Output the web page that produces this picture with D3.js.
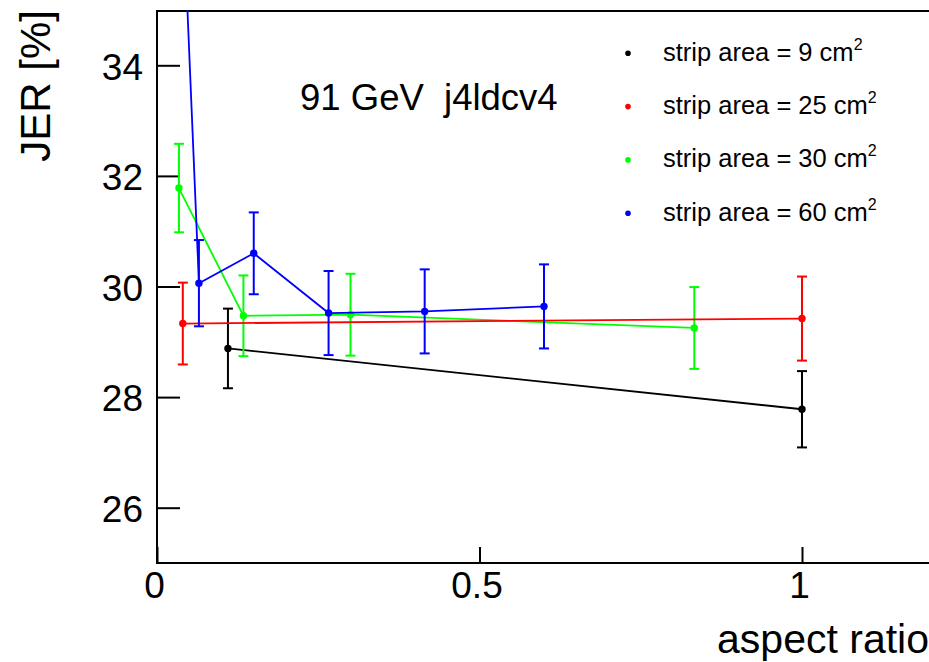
<!DOCTYPE html>
<html>
<head>
<meta charset="utf-8">
<script src="https://cdn.jsdelivr.net/npm/d3@7"></script>
<style>
  body { margin: 0; background: #fff; }
  svg { display: block; }
  text { font-family: "Liberation Sans", Arial, Helvetica, sans-serif; }
</style>
</head>
<body>
<svg id="chart" width="929" height="662"></svg>
<script>
// ---- data ----
const seriesLabels = ["strip area = 9 cm", "strip area = 25 cm", "strip area = 30 cm", "strip area = 60 cm"];
const seriesColors = ["#000000", "#ff0000", "#00ff00", "#0000ff"];

const x9  = [0.11, 1.0];
const y9  = [28.88, 27.78];
const e9  = [0.72, 0.69];

const x25 = [0.04, 1.0];
const y25 = [29.33, 29.42];
const e25 = [0.74, 0.76];

const x30 = [0.034, 0.134, 0.30, 0.833];
const y30 = [31.78, 29.47, 29.49, 29.25];
const e30 = [0.80, 0.73, 0.74, 0.74];

const x60 = [0.04, 0.065, 0.15, 0.266, 0.415, 0.60];
const y60 = [37.0, 30.06, 30.60, 29.52, 29.55, 29.64];
const e60 = [0.80, 0.78, 0.74, 0.76, 0.76, 0.76];

const xTicks = [0, 0.5, 1];
const yTicks = [26, 28, 30, 32, 34];
const titleText = "91 GeV  j4ldcv4";
const xTitle = "aspect ratio";
const yTitle = "JER [%]";

(function () {
// ---- layout ----
const svg = d3.select("#chart");
const pL = 157, pR = 931, pT = 10, pB = 563;

const x = d3.scaleLinear().domain([0, 1.2]).range([pL, pR]);
const y = d3.scaleLinear().domain([25, 35]).range([pB, pT]);

const series = [
  { xs: x9,  ys: y9,  es: e9 },
  { xs: x25, ys: y25, es: e25 },
  { xs: x30, ys: y30, es: e30 },
  { xs: x60, ys: y60, es: e60 }
].map((s, i) => ({
  label: seriesLabels[i],
  color: seriesColors[i],
  pts: s.xs.map((v, j) => ({ x: v, y: s.ys[j], e: s.es[j] }))
}));

svg.append("defs").append("clipPath").attr("id", "plotclip")
  .append("rect").attr("x", pL).attr("y", pT)
  .attr("width", pR - pL).attr("height", pB - pT);

// axes
const yAxis = d3.axisLeft(y).tickValues(yTicks).tickSizeInner(-23).tickSizeOuter(0).tickPadding(14)
  .tickFormat(d3.format("d"));
const gy = svg.append("g").attr("transform", `translate(${pL},0)`).call(yAxis);
gy.select(".domain").remove();
gy.selectAll(".tick line").attr("stroke", "#000").attr("stroke-width", 2);
gy.selectAll(".tick text").attr("font-size", 37).attr("fill", "#000").attr("dy", "0.37em");

const xAxis = d3.axisBottom(x).tickValues(xTicks).tickSizeInner(-16).tickSizeOuter(0).tickPadding(9)
  .tickFormat(d => String(d));
const gx = svg.append("g").attr("transform", `translate(0,${pB})`).call(xAxis);
gx.select(".domain").remove();
gx.selectAll(".tick line").attr("stroke", "#000").attr("stroke-width", 2);
gx.selectAll(".tick text").attr("font-size", 37).attr("fill", "#000").attr("dx", "-3");

// frame
svg.append("rect").attr("x", pL).attr("y", pT + 1)
  .attr("width", pR - pL).attr("height", pB - pT - 1)
  .attr("fill", "none").attr("stroke", "#000").attr("stroke-width", 2);

// data
const plot = svg.append("g").attr("clip-path", "url(#plotclip)");
const order = [0, 2, 1, 3];
const line = d3.line().x(d => x(d.x)).y(d => y(d.y));
order.forEach(i => {
  const s = series[i];
  const g = plot.append("g");
  g.append("path").datum(s.pts).attr("d", line)
    .attr("fill", "none").attr("stroke", s.color).attr("stroke-width", 1.8);
  const eb = g.selectAll(".eb").data(s.pts).enter().append("g");
  eb.append("line")
    .attr("x1", d => x(d.x)).attr("x2", d => x(d.x))
    .attr("y1", d => y(d.y + d.e)).attr("y2", d => y(d.y - d.e))
    .attr("stroke", s.color).attr("stroke-width", 2);
  [1, -1].forEach(sg => {
    eb.append("line")
      .attr("x1", d => x(d.x) - 5).attr("x2", d => x(d.x) + 5)
      .attr("y1", d => y(d.y + sg * d.e)).attr("y2", d => y(d.y + sg * d.e))
      .attr("stroke", s.color).attr("stroke-width", 2);
  });
  eb.append("circle").attr("cx", d => x(d.x)).attr("cy", d => y(d.y))
    .attr("r", 3.7).attr("fill", s.color);
});

// title text
svg.append("text").attr("x", 300).attr("y", 110).attr("font-size", 36.5)
  .attr("fill", "#000").style("white-space", "pre").text(titleText);

// legend
const lg = svg.append("g");
series.forEach((s, i) => {
  const cy = 53.3 + i * 53.3;
  lg.append("circle").attr("cx", 628).attr("cy", cy).attr("r", 2.8).attr("fill", s.color);
  const t = lg.append("text").attr("x", 663).attr("y", cy + 7.5).attr("font-size", 25.5).attr("fill", "#000");
  t.append("tspan").text(s.label);
  t.append("tspan").attr("font-size", 16).attr("dy", -11).text("2");
});

// axis titles
svg.append("text").attr("x", 929).attr("y", 653).attr("text-anchor", "end")
  .attr("font-size", 41).attr("fill", "#000").text(xTitle);
svg.append("text").attr("transform", "translate(50,10) rotate(-90)").attr("text-anchor", "end")
  .attr("font-size", 42).attr("fill", "#000").text(yTitle);
})();
</script>
</body>
</html>
